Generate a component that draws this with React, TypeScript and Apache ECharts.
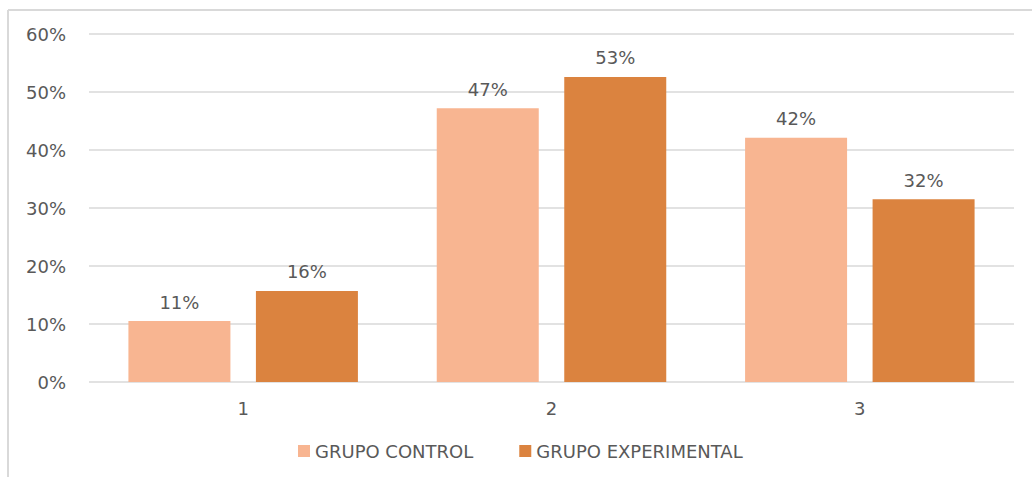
import React, { useEffect, useRef } from "react";
import * as echarts from "echarts";

const categories = ["1", "2", "3"];
const controlValues = [10.5, 47.2, 42.1];
const experimentalValues = [15.7, 52.6, 31.5];
const seriesNames = ["GRUPO CONTROL", "GRUPO EXPERIMENTAL"];
const yTicks = [0, 10, 20, 30, 40, 50, 60];

const FONT = "DejaVu Sans";
const TEXT = "#595959";
const FS = 18;

export default function App() {
  const ref = useRef<HTMLDivElement>(null);
  useEffect(() => {
    if (!ref.current) return;
    const chart = echarts.init(ref.current, null, { renderer: "svg" });
    const label = {
      show: true,
      position: "top",
      distance: 10,
      color: TEXT,
      fontFamily: FONT,
      fontSize: FS,
      formatter: (p: any) => Math.round(p.value) + "%",
    };
    chart.setOption({
      animation: false,
      backgroundColor: "#ffffff",
      textStyle: { fontFamily: FONT },
      graphic: [
        { type: "line", shape: { x1: 8, y1: 10, x2: 8, y2: 477 }, style: { stroke: "#d9d9d9", lineWidth: 2 } },
        { type: "line", shape: { x1: 8, y1: 10, x2: 1032, y2: 10 }, style: { stroke: "#d9d9d9", lineWidth: 2 } },
      ],
      grid: { left: 89, right: 18, top: 34, bottom: 95 },
      legend: {
        bottom: 12,
        left: 293,
        itemWidth: 12,
        itemHeight: 12,
        itemGap: 46,
        itemTextGap: 7,
        icon: "rect",
        textStyle: { color: TEXT, fontFamily: FONT, fontSize: FS },
        data: seriesNames,
      },
      xAxis: {
        type: "category",
        data: categories,
        axisLine: { show: false },
        axisTick: { show: false },
        axisLabel: { color: TEXT, fontFamily: FONT, fontSize: FS, margin: 17 },
      },
      yAxis: {
        type: "value",
        min: yTicks[0],
        max: yTicks[yTicks.length - 1],
        interval: 10,
        axisLine: { show: false },
        axisTick: { show: false },
        axisLabel: { color: TEXT, fontFamily: FONT, fontSize: FS, margin: 23, formatter: (v: number) => v + "%" },
        splitLine: { lineStyle: { color: "#d9d9d9", width: 1.5 } },
      },
      series: [
        {
          name: seriesNames[0],
          type: "bar",
          data: controlValues,
          barWidth: 102,
          barGap: "25%",
          itemStyle: { color: "#F8B591" },
          label,
        },
        {
          name: seriesNames[1],
          type: "bar",
          data: experimentalValues,
          barWidth: 102,
          itemStyle: { color: "#DB833F" },
          label,
        },
      ],
    });
    return () => chart.dispose();
  }, []);
  return <div ref={ref} style={{ position: "absolute", left: 0, top: 0, width: 1032, height: 477 }} />;
}
